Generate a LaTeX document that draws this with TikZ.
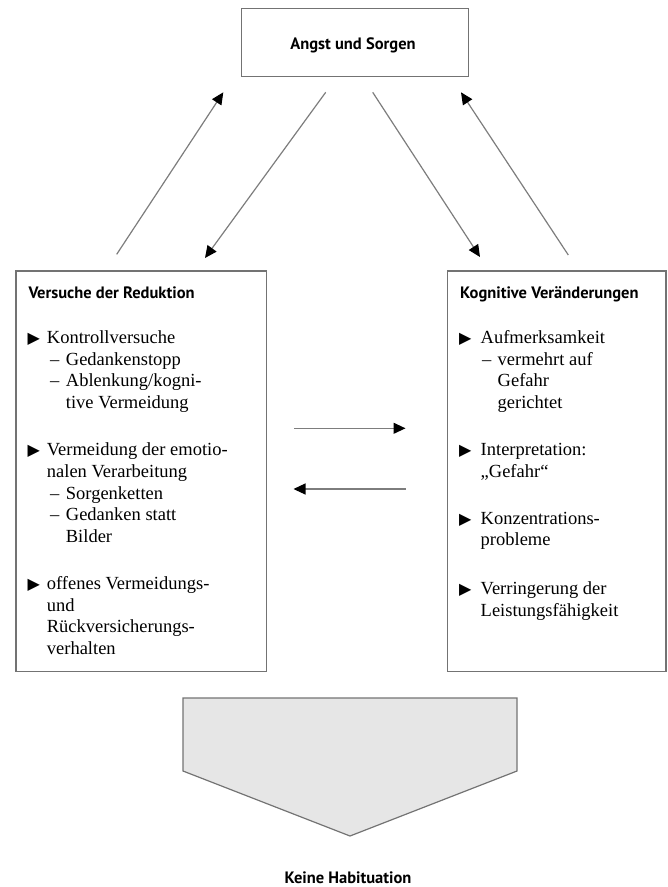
\documentclass[tikz,border=0pt]{standalone}
\usepackage{fontspec}
\setmainfont{Liberation Serif}
\newfontfamily\hdfont{PT Sans}
\newfontfamily\symfont{DejaVu Sans}
\usetikzlibrary{arrows.meta}
\definecolor{boxgray}{RGB}{115,115,115}
\definecolor{linegray}{RGB}{125,125,125}
\definecolor{pentfill}{RGB}{230,230,230}
\tikzset{
  boxstyle/.style={draw=boxgray, line width=1.3pt},
  arr/.style={draw=linegray, line width=1.2pt, -{Triangle[length=12pt,width=11pt,color=black,fill=black]}},
  heading/.style={inner sep=0pt, font=\hdfont\bfseries\fontsize{16.5}{19}\selectfont},
  body/.style={inner sep=0pt, anchor=base west, font=\fontsize{18.5}{21.7}\selectfont},
  bul/.style={inner sep=0pt, anchor=base west, font=\symfont\fontsize{16}{18}\selectfont},
}
\begin{document}
\begin{tikzpicture}[x=1pt,y=-1pt]
\useasboundingbox (0,0) rectangle (668,887);

% boxes
\draw[boxstyle] (241.7,8.3) rectangle (468.3,76.5);
\node[heading, anchor=base] (top) at (353,49) {Angst und Sorgen};
\draw[boxstyle] (16,271) rectangle (266.7,671.7);
\draw[boxstyle] (447.5,271) rectangle (666,671.7);

% left box text
\node[heading, anchor=base west] (lh) at (28.3,298.5) {Versuche der Reduktion};
\node[bul] (lb1) at (27.5,343.3) {▶};
\node[body] (l1) at (46.7,343.3) {Kontrollversuche};
\node[body] (l2d) at (50,365) {–};
\node[body] (l2) at (65.7,365) {Gedankenstopp};
\node[body] (l3d) at (50,386.7) {–};
\node[body] (l3) at (65.7,386.7) {Ablenkung/kogni-};
\node[body] (l4) at (65.7,408.4) {tive Vermeidung};
\node[bul] (lb2) at (27.5,455.7) {▶};
\node[body] (l5) at (46.7,455.7) {Vermeidung der emotio-};
\node[body] (l6) at (46.7,477.4) {nalen Verarbeitung};
\node[body] (l7d) at (50,499.1) {–};
\node[body] (l7) at (65.7,499.1) {Sorgenketten};
\node[body] (l8d) at (50,520.8) {–};
\node[body] (l8) at (65.7,520.8) {Gedanken statt};
\node[body] (l9) at (65.7,542.5) {Bilder};
\node[bul] (lb3) at (27.5,589.3) {▶};
\node[body] (l10) at (46.7,589.3) {offenes Vermeidungs-};
\node[body] (l11) at (46.7,611) {und};
\node[body] (l12) at (46.7,632.7) {Rückversicherungs-};
\node[body] (l13) at (46.7,654.4) {verhalten};

% right box text
\node[heading, anchor=base west] (rh) at (460,298.5) {Kognitive Veränderungen};
\node[bul] (rb1) at (459,343.3) {▶};
\node[body] (r1) at (480.5,343.3) {Aufmerksamkeit};
\node[body] (r2d) at (482,365) {–};
\node[body] (r2) at (497.5,365) {vermehrt auf};
\node[body] (r3) at (497.5,386.7) {Gefahr};
\node[body] (r4) at (497.5,408.4) {gerichtet};
\node[bul] (rb2) at (459,455.7) {▶};
\node[body] (r5) at (480.5,455.7) {Interpretation:};
\node[body] (r6) at (480.5,477.4) {„Gefahr“};
\node[bul] (rb3) at (459,524) {▶};
\node[body] (r7) at (480.5,524) {Konzentrations-};
\node[body] (r8) at (480.5,545.7) {probleme};
\node[bul] (rb4) at (459,594.5) {▶};
\node[body] (r9) at (480.5,594.5) {Verringerung der};
\node[body] (r10) at (480.5,616.2) {Leistungsfähigkeit};

% arrow end points
\coordinate (a1s) at (116.7,254.3);
\coordinate (a1e) at (223.3,92.3);
\coordinate (a2s) at (325.7,92.3);
\coordinate (a2e) at (205,258);
\coordinate (a3s) at (372.7,92.3);
\coordinate (a3e) at (480,257);
\coordinate (a4s) at (568.3,255);
\coordinate (a4e) at (461,92.3);
\coordinate (m1s) at (294,428.3);
\coordinate (m1e) at (405.5,428.3);
\coordinate (m2s) at (405.5,489);
\coordinate (m2e) at (293.5,489);

\draw[arr] (a1s) -- (a1e);
\draw[arr] (a2s) -- (a2e);
\draw[arr] (a3s) -- (a3e);
\draw[arr] (a4s) -- (a4e);
\draw[arr] (m1s) -- (m1e);
\draw[arr] (m2s) -- (m2e);

% bottom pentagon arrow
\draw[draw=boxgray, line width=1.2pt, fill=pentfill, line join=miter]
  (183,698) -- (517,698) -- (517,771) -- (350,836) -- (183,771) -- cycle;
\node[heading, anchor=base] (kh) at (348,883) {Keine Habituation};
\end{tikzpicture}
\end{document}
